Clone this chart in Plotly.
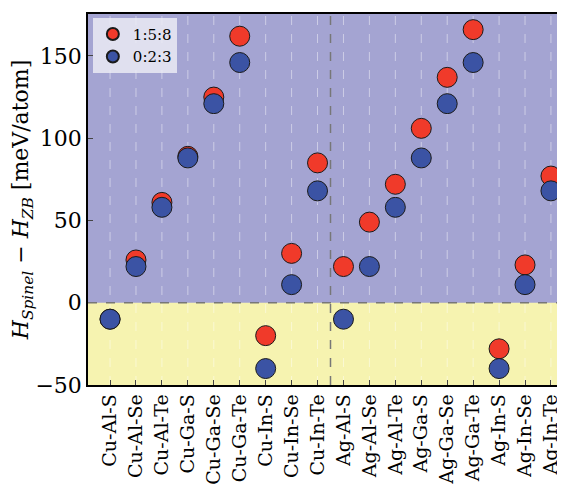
import plotly.graph_objects as go

# compounds and formation-enthalpy differences (meV/atom)
compounds = ["Cu-Al-S", "Cu-Al-Se", "Cu-Al-Te", "Cu-Ga-S", "Cu-Ga-Se", "Cu-Ga-Te",
             "Cu-In-S", "Cu-In-Se", "Cu-In-Te", "Ag-Al-S", "Ag-Al-Se", "Ag-Al-Te",
             "Ag-Ga-S", "Ag-Ga-Se", "Ag-Ga-Te", "Ag-In-S", "Ag-In-Se", "Ag-In-Te"]
red_158 = [-10, 26, 61, 89, 125, 162, -20, 30, 85, 22, 49, 72, 106, 137, 166, -28, 23, 77]
blue_023 = [-10, 22, 58, 88, 121, 146, -40, 11, 68, -10, 22, 58, 88, 121, 146, -40, 11, 68]

idx = list(range(len(compounds)))
fig = go.Figure()
fig.add_trace(go.Scatter(x=idx, y=red_158, mode="markers", name="1:5:8",
                         marker=dict(size=20, color="#f03a2a", line=dict(color="#1a1a1a", width=1))))
fig.add_trace(go.Scatter(x=idx, y=blue_023, mode="markers", name="0:2:3",
                         marker=dict(size=20, color="#3b53a4", line=dict(color="#1a1a1a", width=1))))

# background regions
fig.add_shape(type="rect", xref="paper", x0=0, x1=1, yref="y", y0=0, y1=180,
              fillcolor="#a4a4d2", line_width=0, layer="below")
fig.add_shape(type="rect", xref="paper", x0=0, x1=1, yref="y", y0=-60, y1=0,
              fillcolor="#f6f3b0", line_width=0, layer="below")
fig.add_hline(y=0, line=dict(color="#777777", width=1.5, dash="dash"))
fig.add_vline(x=8.5, line=dict(color="#777777", width=1.5, dash="dash"))
for i in idx:
    fig.add_vline(x=i, line=dict(color="rgba(255,255,255,0.45)", width=1, dash="dash"), layer="below")

fig.update_layout(
    width=565, height=478, margin=dict(l=80, r=0, t=6, b=101),
    paper_bgcolor="white", plot_bgcolor="#a4a4d2",
    font=dict(family="DejaVu Serif", size=19, color="black"),
    showlegend=True,
    legend=dict(x=0.01, y=0.99, xanchor="left", yanchor="top", bgcolor="rgba(235,235,245,0.85)",
                font=dict(size=15), borderwidth=0, itemsizing="constant"),
    xaxis=dict(tickmode="array", tickvals=idx, ticktext=compounds, tickangle=-90,
               range=[-0.85, 17.85], showgrid=False, ticks="inside", showline=True,
               linecolor="black", linewidth=1.5, mirror=True, zeroline=False,
               automargin=False, tickfont=dict(size=19)),
    yaxis=dict(range=[-50, 175.5], tickvals=[-50, 0, 50, 100, 150], showgrid=False,
               ticks="inside", showline=True, linecolor="black", linewidth=1.5, mirror=True,
               zeroline=False, automargin=False, tickfont=dict(size=22),
               title=dict(text="<i>H</i><sub><i>Spinel</i></sub> − <i>H</i><sub><i>ZB</i></sub> [meV/atom]",
                          font=dict(size=22), standoff=2)),
)

fig.write_html("out.html")
